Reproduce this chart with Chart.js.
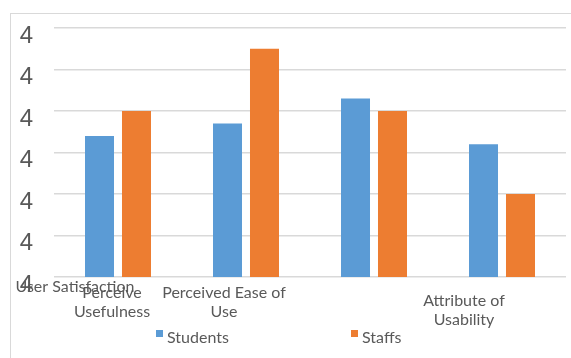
<!DOCTYPE html>
<html lang="en">
<head>
  <meta charset="UTF-8">
  <title>Students vs Staffs</title>
  <script src="https://cdn.jsdelivr.net/npm/chart.js"></script>
  <style>
    body {
      margin: 0;
      background: #fff;
      overflow: hidden;
    }
    #wrap {
      position: relative;
      width: 571px;
      height: 358px;
    }
    #frame {
      position: absolute;
      left: 10px;
      top: 13px;
      width: 600px;
      height: 400px;
      border-left: 1.5px solid #d9d9d9;
      border-top: 1.5px solid #d9d9d9;
      pointer-events: none;
    }
  </style>
</head>
<body>
  <div id="wrap">
    <canvas id="barChart" width="571" height="358"></canvas>
    <div id="frame"></div>
  </div>

  <script>
    // values
    const categories = [
      ["Perceive", "Usefulness"],
      ["Perceived Ease of", "Use"],
      [""],
      ["Attribute of", "Usability"]
    ];
    const axisTitle = "User Satisfaction";
    const students = [4.04, 4.07, 4.13, 4.02];
    const staffs = [4.10, 4.25, 4.10, 3.90];
    const yTicks = [3.7, 3.8, 3.9, 4.0, 4.1, 4.2, 4.3];

    const textColor = '#595959';
    const textFont = '16px Lato';

    // category labels, axis title and legend, placed like the original
    const textPlugin = {
      id: 'textPlugin',
      afterDraw(chart) {
        const ctx = chart.ctx;
        const x = chart.scales.x;
        // [shift from category centre, first line y]
        const place = [[-6, 293], [-22, 293], [0, 293], [-38, 301]];
        ctx.save();
        ctx.font = textFont;
        ctx.fillStyle = textColor;
        ctx.textAlign = 'center';
        ctx.textBaseline = 'middle';
        categories.forEach((lines, i) => {
          const cx = x.getPixelForValue(i) + place[i][0];
          lines.forEach((t, j) => ctx.fillText(t, cx, place[i][1] + j * 19));
        });
        ctx.fillText(axisTitle, 75, 287);

        // legend
        const legendX = [156, 351];
        ctx.textAlign = 'left';
        chart.data.datasets.forEach((ds, i) => {
          ctx.fillStyle = ds.backgroundColor;
          ctx.fillRect(legendX[i], 330, 7, 7);
          ctx.fillStyle = textColor;
          ctx.fillText(ds.label, legendX[i] + 11, 338);
        });
        ctx.restore();
      }
    };

    const ctx = document.getElementById('barChart').getContext('2d');
    new Chart(ctx, {
      type: 'bar',
      data: {
        labels: categories.map(l => l.join(' ')),
        datasets: [
          {
            label: 'Students',
            data: students,
            backgroundColor: '#5b9bd5',
            categoryPercentage: 0.578,
            barPercentage: 0.784
          },
          {
            label: 'Staffs',
            data: staffs,
            backgroundColor: '#ed7d31',
            categoryPercentage: 0.578,
            barPercentage: 0.784
          }
        ]
      },
      options: {
        responsive: false,
        animation: false,
        layout: {
          padding: { top: 28, right: 5, left: 0, bottom: 0 }
        },
        plugins: {
          legend: { display: false },
          tooltip: { enabled: false }
        },
        scales: {
          x: {
            grid: { display: false },
            border: { display: false },
            ticks: { display: false },
            afterFit: (scale) => { scale.height = 81; }
          },
          y: {
            min: yTicks[0],
            max: yTicks[yTicks.length - 1],
            afterBuildTicks: (scale) => {
              scale.ticks = yTicks.map(v => ({ value: v }));
            },
            afterFit: (scale) => {
              scale.width = 54;
              scale.paddingTop = 0;
              scale.paddingBottom = 0;
            },
            grid: {
              color: '#d9d9d9',
              lineWidth: 1.5,
              drawTicks: false
            },
            border: { display: false },
            ticks: {
              color: textColor,
              font: { family: 'Liberation Sans', size: 24 },
              padding: 21,
              labelOffset: 8,
              callback: (v) => Number(v).toFixed(0)
            }
          }
        }
      },
      plugins: [textPlugin]
    });
  </script>
</body>
</html>
